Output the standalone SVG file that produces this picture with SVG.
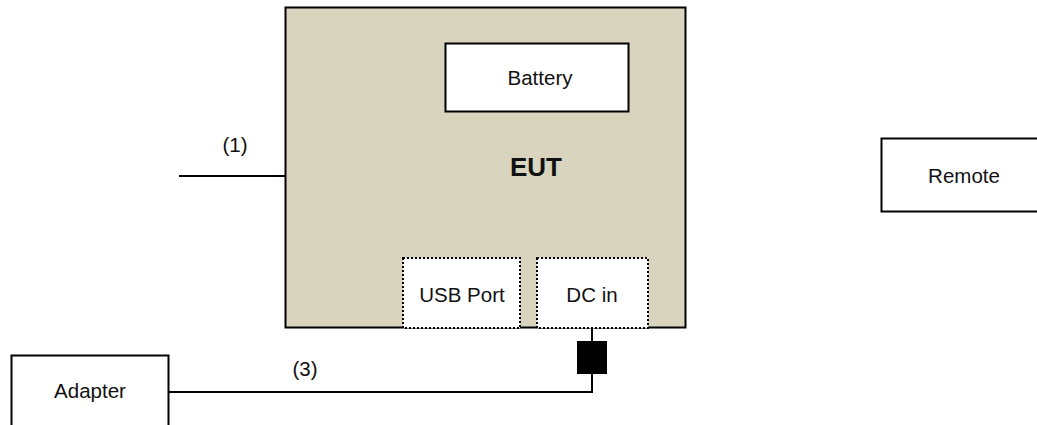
<svg xmlns="http://www.w3.org/2000/svg" width="1037" height="425" viewBox="0 0 1037 425">
<style>
.box{fill:#fff;stroke:#000;stroke-width:2}
.dot{fill:#fff;stroke:#000;stroke-width:2;stroke-dasharray:2 2}
.ln{fill:none;stroke:#000;stroke-width:2}
text{font-family:"Liberation Sans",Arial,sans-serif;font-size:20.5px;fill:#111;text-anchor:middle}
</style>
<rect width="1037" height="425" fill="#fff"/>
<g id="eut">
<rect x="285.5" y="7.5" width="400" height="320" fill="#d9d4be" stroke="#000" stroke-width="2"/>
<text x="536" y="176" style="font-weight:bold;font-size:26px">EUT</text>
</g>
<g id="battery">
<rect class="box" x="445.5" y="43.5" width="183" height="68"/>
<text x="540" y="85">Battery</text>
</g>
<g id="usb">
<rect class="dot" x="403" y="258" width="117" height="70"/>
<text x="462" y="301.5">USB Port</text>
</g>
<g id="dcin">
<rect class="dot" x="537" y="258" width="111" height="70"/>
<text x="592" y="301.5">DC in</text>
</g>
<g id="remote">
<rect class="box" x="881.5" y="138.5" width="170" height="73"/>
<text x="964" y="183">Remote</text>
</g>
<g id="adapter">
<rect class="box" x="11.5" y="355.5" width="157" height="90"/>
<text x="90" y="398">Adapter</text>
</g>
<g id="connectors">
<line class="ln" x1="179" y1="176" x2="285" y2="176"/>
<polyline class="ln" points="592,328 592,392 168,392"/>
<rect x="577" y="341" width="30" height="33" fill="#000"/>
<text x="235" y="152">(1)</text>
<text x="305" y="376">(3)</text>
</g>
</svg>
